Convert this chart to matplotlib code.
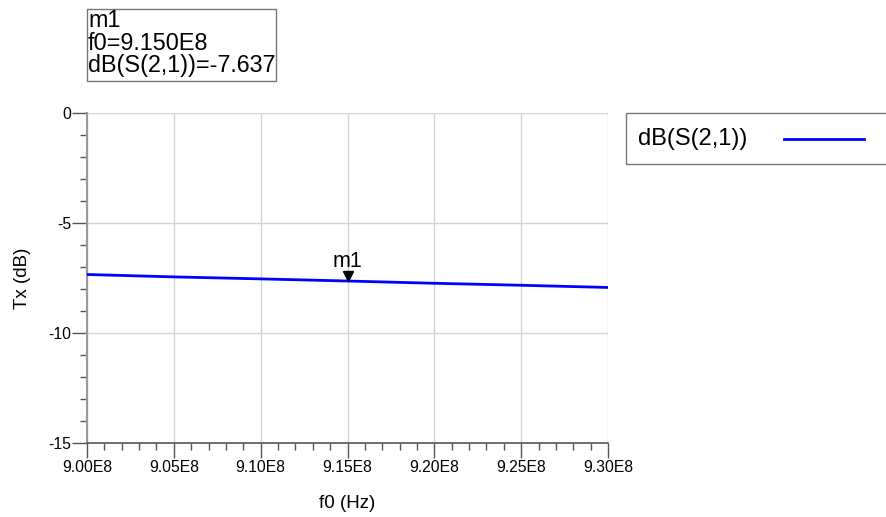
import matplotlib
matplotlib.use("Agg")
import matplotlib.pyplot as plt
import matplotlib.transforms as mtransforms
from matplotlib.ticker import MultipleLocator
from matplotlib.patches import Rectangle
from matplotlib.lines import Line2D

freq = [9.00e8, 9.05e8, 9.10e8, 9.15e8, 9.20e8, 9.25e8, 9.30e8]
s21_db = [-7.34, -7.45, -7.54, -7.637, -7.74, -7.83, -7.93]
marker_f = 9.15e8
marker_v = -7.637
xticks = [9.00e8, 9.05e8, 9.10e8, 9.15e8, 9.20e8, 9.25e8, 9.30e8]
xtick_labels = ["9.00E8", "9.05E8", "9.10E8", "9.15E8", "9.20E8", "9.25E8", "9.30E8"]
yticks = [0, -5, -10, -15]

plt.rcParams['font.family'] = ['Liberation Sans', 'DejaVu Sans']
plt.rcParams['axes.unicode_minus'] = False
W, H = 886, 517
fig = plt.figure(figsize=(W/100, H/100), dpi=100)
ax = fig.add_axes([87/W, 1-443/H, (608-87)/W, (443-113)/H])

ax.plot(freq, s21_db, color='#0000ff', lw=2, solid_capstyle='butt', zorder=3)
ax.set_xlim(9.00e8, 9.30e8)
ax.set_ylim(-15, 0)
ax.set_xticks(xticks)
ax.set_xticklabels(xtick_labels)
ax.set_yticks(yticks)
ax.xaxis.set_minor_locator(MultipleLocator(1e6))
ax.yaxis.set_minor_locator(MultipleLocator(1))
ax.grid(True, which='major', color='#d4d4d4', lw=1)
for s in ['top', 'right']:
    ax.spines[s].set_visible(False)
ax.spines['bottom'].set_color('#555555')
ax.spines['left'].set_color('#999999')
ax.spines['bottom'].set_linewidth(1.2)
ax.spines['left'].set_linewidth(1.5)
ax.tick_params(which='major', direction='out', length=10.5, width=1, color='#555555', labelsize=11.3)
ax.tick_params(which='minor', direction='out', length=5, width=1, color='#555555')
ax.tick_params(axis='x', which='major', pad=2)
ax.tick_params(axis='y', which='major', pad=1)
ax.set_ylabel("Tx (dB)", fontsize=13.5, labelpad=12)
ax.set_xlabel("f0 (Hz)", fontsize=13.5, labelpad=14)

# marker: downward triangle whose tip sits on the trace
mk_tr = mtransforms.offset_copy(ax.transData, fig=fig, x=0, y=5, units='dots')
ax.plot([marker_f], [marker_v], marker='v', color='black', markersize=7.5,
        transform=mk_tr, clip_on=False, zorder=4)
ax.annotate("m1", (marker_f, marker_v), xytext=(0, 10), textcoords='offset points',
            ha='center', va='baseline', fontsize=15.5)

# marker readout box
fig.patches.append(Rectangle((87/W, 1-81/H), (276-87)/W, (81-9)/H, transform=fig.transFigure,
                             fill=False, edgecolor='#777777', lw=1))
fig.text(88/W, 1-9/H, "m1\nf0=9.150E8\ndB(S(2,1))=-7.637", ha='left', va='top',
         fontsize=16.8, linespacing=0.98)

# legend box
fig.patches.append(Rectangle((626/W, 1-164/H), (890-626)/W, (164-113)/H, transform=fig.transFigure,
                             fill=False, edgecolor='#777777', lw=1))
fig.text(638/W, 1-139/H, "dB(S(2,1))", ha='left', va='center', fontsize=17)
fig.lines.append(Line2D([784/W, 864/W], [1-139/H, 1-139/H], transform=fig.transFigure,
                        color='#0000ff', lw=2))

fig.savefig("out.png", dpi=100)
